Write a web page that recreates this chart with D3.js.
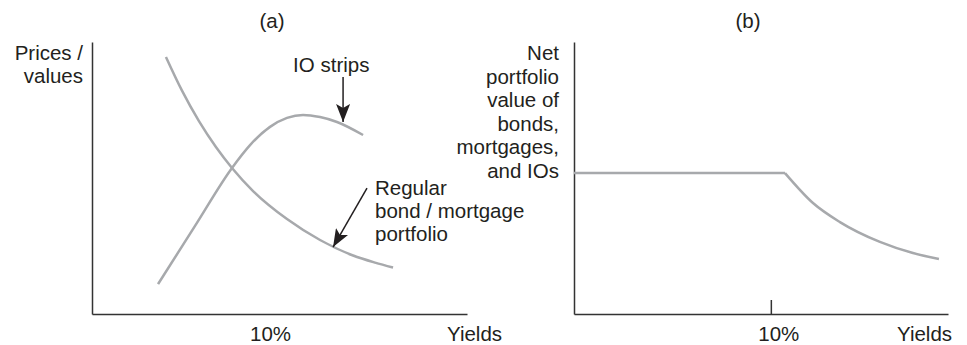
<!DOCTYPE html>
<html>
<head>
<meta charset="utf-8">
<script src="https://cdn.jsdelivr.net/npm/d3@7"></script>
<style>
  body { margin: 0; background: #fff; }
  svg { display: block; font-family: "Liberation Sans", Arial, sans-serif; }
  text { fill: #231f20; font-size: 20.5px; }
</style>
</head>
<body>
<svg width="967" height="345"></svg>
<script>
// panel (a): [yield %, price / value]
const bondPortfolio = [
  [4.14, 94.5], [5.04, 82.1], [5.99, 70.9], [6.94, 61.4], [7.84, 53.7],
  [9.02, 45.2], [10.92, 34.9], [12.77, 27.2], [14.62, 21.5], [15.85, 18.9], [16.86, 17.1]
];
const ioStrips = [
  [3.7, 11.0], [5.77, 32.4], [7.84, 53.7], [8.85, 62.1], [9.97, 68.8],
  [10.92, 72.1], [11.82, 73.2], [12.77, 72.4], [13.72, 70.6], [15.18, 65.8]
];
// panel (b): net portfolio value, flat then falling
const netFlat = [[0, 51.8], [10.72, 51.8]];
const netDecline = [[10.72, 51.8], [12.14, 40.8], [13.51, 33.8], [15.54, 26.5], [17.22, 22.4], [18.54, 20.2]];

const panelTitles = ["(a)", "(b)"];
const yLabelA = ["Prices /", "values"];
const yLabelB = ["Net", "portfolio", "value of", "bonds,", "mortgages,", "and IOs"];
const regularLabel = ["Regular", "bond / mortgage", "portfolio"];
const xTickB = [10];

const svg = d3.select("svg");
const lineGray = "#a7a9ac";
const axisColor = "#333";

const y = d3.scaleLinear().domain([0, 100]).range([314, 42]);
const xA = d3.scaleLinear().domain([0, 21]).range([92, 467]);
const xB = d3.scaleLinear().domain([0, 19]).range([574, 948]);

svg.append("defs").append("marker")
  .attr("id", "head")
  .attr("markerUnits", "userSpaceOnUse")
  .attr("viewBox", "0 0 18 14")
  .attr("refX", 18).attr("refY", 7)
  .attr("markerWidth", 18).attr("markerHeight", 14)
  .attr("orient", "auto")
  .append("path")
  .attr("d", "M0,0 L18,7 L0,14 L4,7 Z")
  .attr("fill", "#231f20");

function drawAxes(x, ticks) {
  svg.append("g")
    .attr("transform", "translate(0,314)")
    .call(d3.axisBottom(x).tickValues(ticks).tickSizeInner(-14).tickSizeOuter(0).tickFormat(""))
    .call(g => g.selectAll("path, line").attr("stroke", axisColor).attr("stroke-width", 1.5));
  svg.append("g")
    .attr("transform", `translate(${x.range()[0]},0)`)
    .call(d3.axisLeft(y).tickValues([]).tickSizeOuter(0))
    .call(g => g.selectAll("path").attr("stroke", axisColor).attr("stroke-width", 1.5));
}

drawAxes(xA, []);
drawAxes(xB, xTickB);

function drawLine(x, data, curve) {
  svg.append("path")
    .datum(data)
    .attr("fill", "none")
    .attr("stroke", lineGray)
    .attr("stroke-width", 2.5)
    .attr("d", d3.line().x(d => x(d[0])).y(d => y(d[1])).curve(curve));
}

drawLine(xA, bondPortfolio, d3.curveMonotoneX);
drawLine(xA, ioStrips, d3.curveMonotoneX);
drawLine(xB, netFlat, d3.curveLinear);
drawLine(xB, netDecline, d3.curveMonotoneX);

// titles
svg.selectAll(".title")
  .data(panelTitles)
  .enter()
  .append("text")
  .attr("class", "title")
  .attr("x", (d, i) => i === 0 ? 272 : 748)
  .attr("y", 28)
  .attr("text-anchor", "middle")
  .text(d => d);

// y labels
svg.append("text")
  .attr("text-anchor", "end")
  .selectAll("tspan")
  .data(yLabelA)
  .enter()
  .append("tspan")
  .attr("x", 83)
  .attr("y", (d, i) => 60 + i * 23)
  .text(d => d);

svg.append("text")
  .attr("text-anchor", "end")
  .selectAll("tspan")
  .data(yLabelB)
  .enter()
  .append("tspan")
  .attr("x", 559)
  .attr("y", (d, i) => 60 + i * 23.5)
  .text(d => d);

// x labels
svg.append("text").attr("x", xA(10)).attr("y", 341).attr("text-anchor", "middle").text("10%");
svg.append("text").attr("x", xB(10) + 8).attr("y", 341).attr("text-anchor", "middle").text("10%");
svg.append("text").attr("x", 447).attr("y", 341).text("Yields");
svg.append("text").attr("x", 897).attr("y", 341).text("Yields");

// annotations
svg.append("text").attr("x", xA(13.4)).attr("y", 72).attr("text-anchor", "middle").text("IO strips");
svg.append("line")
  .attr("x1", xA(14.06)).attr("y1", y(87.1))
  .attr("x2", xA(14.06)).attr("y2", y(70.6))
  .attr("stroke", "#231f20").attr("stroke-width", 1.5)
  .attr("marker-end", "url(#head)");

svg.append("text")
  .selectAll("tspan")
  .data(regularLabel)
  .enter()
  .append("tspan")
  .attr("x", 375)
  .attr("y", (d, i) => 195 + i * 23)
  .text(d => d);
svg.append("line")
  .attr("x1", xA(15.4)).attr("y1", y(46.3))
  .attr("x2", xA(13.5)).attr("y2", y(24.6))
  .attr("stroke", "#231f20").attr("stroke-width", 1.5)
  .attr("marker-end", "url(#head)");
</script>
</body>
</html>
